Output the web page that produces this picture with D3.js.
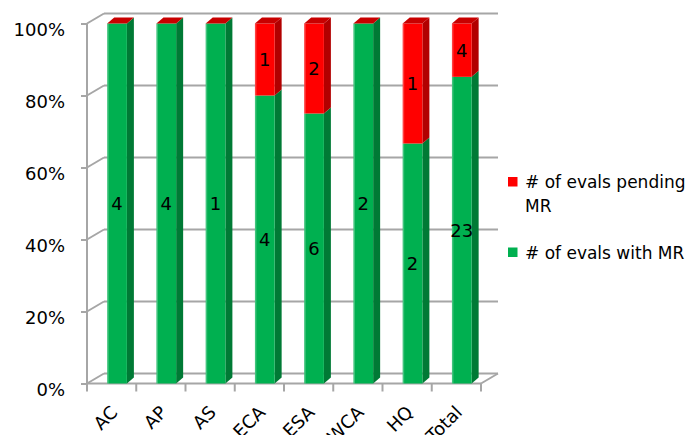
<!DOCTYPE html>
<html><head><meta charset="utf-8">
<script src="https://cdn.jsdelivr.net/npm/d3@7"></script>
<style>body{margin:0;background:#fff;} svg{display:block;font-family:"DejaVu Sans",Verdana,sans-serif;}</style>
</head><body>
<svg id="chart" width="691" height="435"></svg>
<script>
const categories = ["AC","AP","AS","ECA","ESA","WCA","HQ","Total"];
const withMR = [4,4,1,4,6,2,2,23];
const pendingMR = [0,0,0,1,2,0,1,4];
const yTicks = [0,0.2,0.4,0.6,0.8,1];
const seriesNames = ["# of evals pending MR","# of evals with MR"];

const svg = d3.select("#chart");
const W = 691, H = 435;
const x = d3.scaleBand().domain(categories).range([87, 481]).padding(0);
const y = d3.scaleLinear().domain([0,1]).range([383.5, 23.5]);
const wdx = 17, wdy = -10;      // wall depth offset
const bdx = 7, bdy = -6;        // bar depth offset
const gridColor = "#a6a6a6";

const colors = {
  green: {front:"#00b050", side:"#007a35", top:"#008a3e"},
  red: {front:"#ff0000", side:"#b20000", top:"#c80000"}
};

// back wall gridlines
svg.append("g").selectAll("line").data(yTicks).join("line")
  .attr("x1", x.range()[0] + wdx).attr("x2", x.range()[1] + wdx)
  .attr("y1", d => y(d) + wdy).attr("y2", d => y(d) + wdy)
  .attr("stroke", gridColor).attr("stroke-width", 2);
// left wall diagonals
svg.append("g").selectAll("line").data(yTicks).join("line")
  .attr("x1", x.range()[0]).attr("x2", x.range()[0] + wdx)
  .attr("y1", d => y(d)).attr("y2", d => y(d) + wdy)
  .attr("stroke", gridColor).attr("stroke-width", 2);
// floor right edge
svg.append("line")
  .attr("x1", x.range()[1]).attr("x2", x.range()[1] + wdx)
  .attr("y1", y(0)).attr("y2", y(0) + wdy)
  .attr("stroke", gridColor).attr("stroke-width", 2);

// y axis
const yAxis = d3.axisLeft(y).tickValues(yTicks).tickFormat(d3.format(".0%")).tickSize(6).tickPadding(16);
const gy = svg.append("g").attr("transform", `translate(${x.range()[0]},0)`).call(yAxis);
gy.select(".domain").attr("stroke", gridColor).attr("stroke-width", 2).attr("d", `M0,${y(0)}V${y(1)}`);
gy.selectAll(".tick line").attr("stroke", gridColor).attr("stroke-width", 2);
gy.selectAll(".tick text").attr("font-size", 18).attr("fill", "#000")
  .attr("font-family", '"DejaVu Sans",Verdana,sans-serif').attr("dy", "0.95em").attr("y", -5);

// x axis
const xAxis = d3.axisBottom(x).tickSize(0).tickFormat(d => d);
const gx = svg.append("g").attr("transform", `translate(0,${y(0)})`).call(xAxis);
gx.select(".domain").attr("stroke", gridColor).attr("stroke-width", 2).attr("d", `M${x.range()[0]},0H${x.range()[1]}`);
gx.selectAll(".tick text").attr("font-size", 18).attr("fill", "#000")
  .attr("font-family", '"DejaVu Sans",Verdana,sans-serif')
  .attr("text-anchor", "end").attr("dy", null).attr("y", null)
  .attr("transform", `translate(7,30) rotate(-45)`);
// boundary ticks
const bounds = categories.map(c => x(c)).concat([x.range()[1]]);
svg.append("g").selectAll("line").data(bounds).join("line")
  .attr("x1", d => d).attr("x2", d => d)
  .attr("y1", y(0)).attr("y2", y(0) + 8)
  .attr("stroke", gridColor).attr("stroke-width", 2);

// bars
const bw = x.bandwidth() * 0.4;
const bOff = x.bandwidth() * 0.41;
const barsG = svg.append("g");
categories.forEach((c, i) => {
  const total = withMR[i] + pendingMR[i];
  const p1 = withMR[i] / total;
  const segs = [
    {y0: 0, y1: p1, col: colors.green, v: withMR[i]},
    {y0: p1, y1: 1, col: colors.red, v: pendingMR[i]}
  ];
  const x0 = x(c) + bOff, x1 = x0 + bw;
  const g = barsG.append("g");
  segs.forEach(s => {
    const yt = y(s.y1), yb = y(s.y0);
    if (yb - yt > 0.01) {
      g.append("path").attr("fill", s.col.side)
        .attr("d", `M${x1},${yb}L${x1+bdx},${yb+bdy}L${x1+bdx},${yt+bdy}L${x1},${yt}Z`);
      g.append("rect").attr("x", x0).attr("y", yt).attr("width", bw).attr("height", yb - yt)
        .attr("fill", s.col.front);
      g.append("rect").attr("x", x0).attr("y", yt).attr("width", 1.5).attr("height", yb - yt)
        .attr("fill", "#ffffff").attr("opacity", 0.25);
    }
  });
  // top face (red cap)
  const yTop = y(1);
  g.append("path").attr("fill", colors.red.top)
    .attr("d", `M${x0},${yTop}L${x0+bdx},${yTop+bdy}L${x1+bdx},${yTop+bdy}L${x1},${yTop}Z`);
  // labels
  segs.forEach(s => {
    if (s.v > 0) {
      g.append("text").attr("x", (x0 + x1) / 2).attr("y", (y(s.y0) + y(s.y1)) / 2)
        .attr("dy", "0.36em").attr("text-anchor", "middle").attr("font-size", 18)
        .attr("fill", "#000").text(s.v);
    }
  });
});

// legend
const leg = svg.append("g");
leg.append("rect").attr("x", 508).attr("y", 177).attr("width", 9.5).attr("height", 9.5).attr("fill", colors.red.front);
leg.append("text").attr("x", 525).attr("y", 188).attr("font-size", 17).attr("fill", "#000").text("# of evals pending");
leg.append("text").attr("x", 525).attr("y", 212).attr("font-size", 17).attr("fill", "#000").text("MR");
leg.append("rect").attr("x", 508).attr("y", 247.5).attr("width", 9.5).attr("height", 9.5).attr("fill", colors.green.front);
leg.append("text").attr("x", 525).attr("y", 259).attr("font-size", 17).attr("fill", "#000").text(seriesNames[1]);
</script>
</body></html>
